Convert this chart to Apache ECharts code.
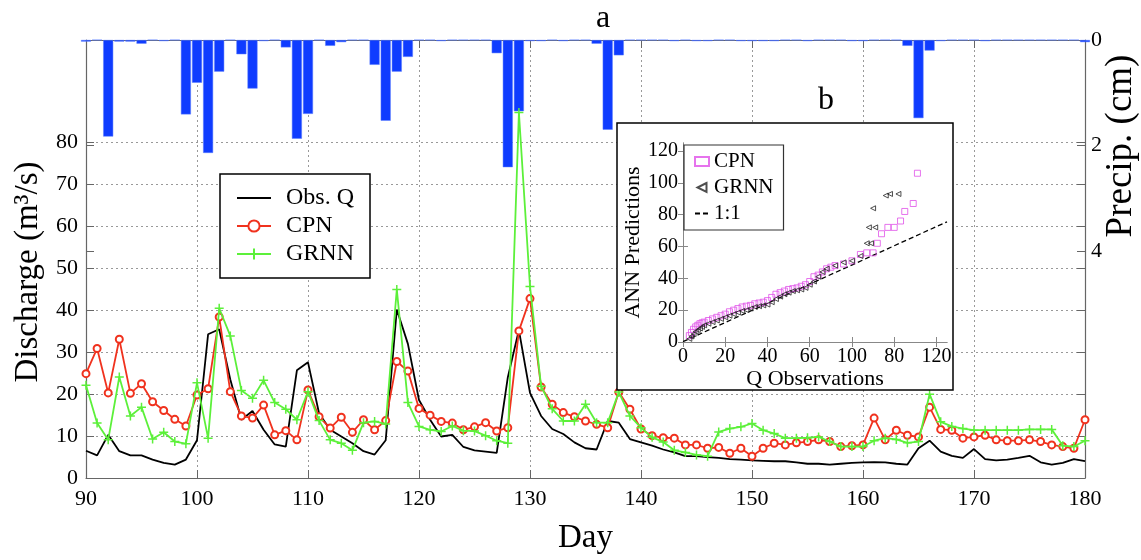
<!DOCTYPE html>
<html><head><meta charset="utf-8">
<script src="https://cdn.jsdelivr.net/npm/echarts@6/dist/echarts.min.js"></script>
<style>html,body{margin:0;padding:0;background:#fff}#c{width:1141px;height:560px}</style>
</head><body><div id="c"></div>
<script>
// ---- data ----
var firstDay = 90, lastDay = 180;
var obsQ = [6.5,5.4,10.3,6.4,5.4,5.4,4.4,3.6,3.2,4.4,
  9.0,34.3,35.5,23.5,13.9,16,11.5,8,7.5,25.7,
  27.6,15.4,11.5,9.9,8.3,6.4,5.6,9.0,40.2,32,
  18.6,13.9,9.9,10.3,7.4,6.6,6.3,6.0,24,35.3,
  20.3,14.8,11.7,10.5,8.5,7.1,6.8,13.6,13.2,9.3,
  8.5,7.7,6.8,6.1,5.2,5.2,5.0,4.8,4.5,4.4,
  4.2,4.1,4.0,4.0,3.75,3.4,3.4,3.2,3.4,3.6,
  3.75,3.8,3.75,3.4,3.2,7.1,8.9,6.3,5.3,4.8,
  6.9,4.5,4.2,4.4,4.8,5.3,3.75,3.2,3.6,4.5,4.0];
var cpn = [24.9,30.9,20.3,33.1,20.2,22.5,18.2,16.1,14,12.4,
  19.8,21.3,38.4,20.6,14.8,14.3,17.4,10.3,11.3,9.1,
  21,14.6,11.9,14.5,10.9,13.9,11.5,13.7,27.8,25.5,
  16.6,15,13.5,13.1,11.5,12.2,13.2,11.2,12,35.1,
  42.8,21.7,17.6,15.6,14.6,13.6,12.8,12,20.5,16.4,
  11.7,10.1,9.6,9.5,7.9,7.9,7.1,7.3,5.9,7.1,
  5.2,7.1,8.3,7.9,8.4,8.7,9.1,8.7,7.5,7.7,
  7.9,14.3,9.1,11.4,10.2,9.8,16.9,11.6,11.4,9.5,
  9.8,10.2,9.1,8.9,8.9,9.1,8.7,7.9,7.5,7.1,13.9];
var grnn = [22.1,13.1,9.1,24.1,14.8,16.9,9.3,10.9,8.7,8.2,
  22.7,9.5,40.5,33.9,20.9,19,23.3,18,16.4,13.9,
  20.6,13.7,9.1,8.3,6.6,13.2,13.5,12.9,45,18,
  12.3,11.5,11.1,12.4,11.3,11.2,10.1,8.9,8.3,87.2,
  45.7,21.9,16.5,13.6,13.6,17.6,13.2,13.2,20.5,14.8,
  12,9.7,8.6,6.6,6.1,5.5,5.2,11,11.8,12.2,
  13,11.4,10.6,9.5,9.5,9.6,9.8,8.7,7.5,7.5,
  7.5,8.9,9.5,9.2,8.4,8.7,20,13.4,12.3,11.8,
  11.4,11.4,11.4,11.4,11.4,11.6,11.6,11.6,7.7,7.5,8.9];
// precipitation (cm), day 90..180
var precip = [0.03,0,1.83,0.03,0.03,0.07,0,0.02,0,1.41,
  0.81,2.14,0.60,0,0.27,0.92,0.02,0,0.14,1.87,
  1.40,0,0.11,0.04,0,0,0.47,1.53,0.60,0.32,
  0,0,0.02,0,0,0,0,0.25,2.41,1.35,
  0.02,0.02,0,0.02,0,0,0.07,1.70,0.29,0,
  0,0,0,0.02,0,0.02,0.02,0,0,0.02,
  0.02,0.02,0.02,0,0,0.02,0,0,0,0.02,
  0.02,0,0,0,0.11,1.48,0.20,0.02,0,0,
  0,0.02,0,0,0,0,0,0,0,0,0.04];
var mainXTicks = [90,100,110,120,130,140,150,160,170,180];
var dischargeTicks = [0,10,20,30,40,50,60,70,80];
var precipTicks = [0,2,4];
// inset scatter (b)
var insetCPN = [[3,4],[4,6],[5,8],[6,9.5],[7,10.5],[8,11.5],[9,12],[10,12.5],[12,13.5],[14,14.5],[16,15.5],[18,16.5],[20,17.5],[22,19],[24,20],[26,21],[28,22],[30,22.5],[32,23],[34,24],[36,24.5],[38,25],[40,26],[42,28],[44,30],[46,31],[48,32],[50,33],[52,33.5],[54,34],[56,35],[58,36],[60,38],[62,41],[64,42],[66,44],[68,46],[70,47],[72,48],[76,49],[80,51],[84,55],[87,56],[90,56],[92,62],[94,68],[97,72],[100,72],[103,76],[105,82],[109,87],[111,106]];
var insetGRNN = [[3,2],[4,3.5],[5,5],[6,6.5],[7,7.5],[8,8.5],[9,9.5],[10,10.5],[12,11.5],[14,12.5],[16,13.5],[18,14.5],[20,15.5],[22,16.5],[24,17.5],[26,18.5],[28,19.5],[30,20],[32,21],[34,22],[36,22.5],[38,23],[40,23.5],[42,25],[44,27],[46,28.5],[48,30],[50,31],[52,32],[54,32.5],[56,33],[58,34],[60,36],[62,38],[64,41],[66,44],[68,46],[72,48],[76,50],[80,51],[84,54],[87,62],[89,62],[88,72],[91,72],[90,84],[96,92],[98,93],[102,93]];
var insetLine = [[0,0.2],[125,75.5]];
var insetTickValues = [0,20,40,60,80,100,120];
var insetXTickLabels = ["0","20","40","60","100","80","120"];
var insetYTickLabels = ["0","20","40","60","80","100","120"];

// ---- build ----
function pairs(vals){ var o=[]; for(var i=0;i<vals.length;i++){ o.push([firstDay+i, vals[i]]); } return o; }
var FF = 'Liberation Serif';
var AX = '#666';
var PMAX = 8.3;
var dotted = {show:true, lineStyle:{color:'#999', type:[2,3], width:1}};
var chart = echarts.init(document.getElementById('c'), null, {renderer:'canvas'});
var plusPath = 'path://M0,5L10,5M5,0L5,10';
var option = {
  animation:false,
  backgroundColor:'#fff',
  textStyle:{fontFamily:FF},
  title:[
    {text:'a', left:591, top:-2, textStyle:{fontFamily:FF, fontSize:32, fontWeight:'normal', color:'#000'}},
    {text:'b', left:813, top:80, textStyle:{fontFamily:FF, fontSize:32, fontWeight:'normal', color:'#000'}}
  ],
  graphic:[
    {type:'rect', z:5, shape:{x:617, y:123, width:336, height:267}, style:{fill:'#fff', stroke:'#000', lineWidth:1.5}},
    {type:'text', z:6, x:1121, y:146, rotation:Math.PI/2, style:{text:'Precip. (cm)', font:'37px "Liberation Serif"', fill:'#000', align:'center', verticalAlign:'middle'}}
  ],
  legend:[
    {z:20, orient:'vertical', left:220, top:174, padding:[12,16,12,16], itemWidth:34, itemHeight:14, itemGap:4,
     borderColor:'#000', borderWidth:1.5, backgroundColor:'#fff',
     textStyle:{fontFamily:FF, fontSize:24, color:'#000', padding:[0,0,0,10]},
     data:[{name:'Obs. Q', itemStyle:{opacity:0}},'CPN','GRNN']},
    {z:20, orient:'vertical', left:684, top:145, padding:[6,10,6,10], itemWidth:14, itemHeight:9, itemGap:5,
     borderColor:'#333', borderWidth:1.2, backgroundColor:'#fff',
     textStyle:{fontFamily:FF, fontSize:21, color:'#000'},
     formatter:function(n){return n.trim();},
     data:['CPN ',{name:'GRNN ', icon:'path://M10,0L0,5L10,10Z'},{name:'1:1', itemStyle:{opacity:0}}]}
  ],
  grid:[
    {left:86, right:56, top:40, bottom:76},
    {left:683, top:143, width:264, height:199, z:10}
  ],
  xAxis:[
    {gridIndex:0, type:'value', min:90, max:180, interval:10, position:'bottom',
     axisLine:{lineStyle:{color:AX, width:1.2}}, axisTick:{inside:true, length:8, lineStyle:{color:AX}},
     axisLabel:{fontFamily:FF, fontSize:22, color:'#000', margin:10},
     splitLine:dotted,
     name:'Day', nameLocation:'middle', nameGap:44, nameTextStyle:{fontFamily:FF, fontSize:33, color:'#000'}},
    {gridIndex:0, type:'value', min:90, max:180, interval:10, position:'top',
     axisLine:{lineStyle:{color:AX, width:1.2}}, axisTick:{inside:true, length:8, lineStyle:{color:AX}},
     axisLabel:{show:false}, splitLine:{show:false}},
    {gridIndex:1, type:'value', min:0, max:125, position:'bottom', z:10,
     axisLine:{lineStyle:{color:'#888'}}, axisTick:{inside:true, length:5, customValues:insetTickValues, lineStyle:{color:'#888'}},
     axisLabel:{customValues:insetTickValues, fontFamily:FF, fontSize:20, color:'#000', margin:5,
       formatter:function(v){ return insetXTickLabels[insetTickValues.indexOf(v)]; }},
     splitLine:{show:false},
     name:'Q Observations', nameLocation:'middle', nameGap:24, nameTextStyle:{fontFamily:FF, fontSize:22, color:'#000'}},
    {gridIndex:1, type:'value', min:0, max:125, position:'top', z:10,
     axisLine:{lineStyle:{color:'#888'}}, axisTick:{inside:true, length:5, customValues:insetTickValues, lineStyle:{color:'#888'}},
     axisLabel:{show:false}, splitLine:{show:false}}
  ],
  yAxis:[
    {gridIndex:0, type:'value', min:0, max:104.5, position:'left',
     axisLine:{show:true, lineStyle:{color:AX, width:1.2}},
     axisTick:{show:true, inside:true, length:8, customValues:dischargeTicks, lineStyle:{color:AX}},
     axisLabel:{customValues:dischargeTicks, fontFamily:FF, fontSize:22, color:'#000', margin:8},
     splitLine:dotted,
     name:'Discharge (m³/s)', nameLocation:'middle', nameGap:39, nameTextStyle:{fontFamily:FF, fontSize:33, color:'#000', padding:[0,26,0,0]}},
    {gridIndex:0, type:'value', min:0, max:PMAX, inverse:true, position:'right',
     axisLine:{show:true, lineStyle:{color:AX, width:1.2}},
     axisTick:{show:true, inside:true, length:8, customValues:precipTicks, lineStyle:{color:AX}},
     axisLabel:{customValues:precipTicks, fontFamily:FF, fontSize:22, color:'#000', margin:6},
     splitLine:{show:false}},
    {gridIndex:0, type:'value', min:0, max:104.5, position:'right',
     axisLine:{show:false}, axisTick:{show:true, inside:true, length:8, customValues:dischargeTicks, lineStyle:{color:AX}},
     axisLabel:{show:false}, splitLine:{show:false}},
    {gridIndex:0, type:'value', min:0, max:PMAX, inverse:true, position:'left',
     axisLine:{show:false}, axisTick:{show:true, inside:true, length:8, customValues:precipTicks, lineStyle:{color:AX}},
     axisLabel:{show:false}, splitLine:{show:false}},
    {gridIndex:1, type:'value', min:0, max:125, position:'left', z:10,
     axisLine:{show:true, lineStyle:{color:'#888'}}, axisTick:{show:true, inside:true, length:5, customValues:insetTickValues, lineStyle:{color:'#888'}},
     axisLabel:{customValues:insetTickValues, fontFamily:FF, fontSize:20, color:'#000', margin:5,
       formatter:function(v){ return insetYTickLabels[insetTickValues.indexOf(v)]; }},
     splitLine:{show:false},
     name:'ANN Predictions', nameLocation:'middle', nameGap:34, nameTextStyle:{fontFamily:FF, fontSize:22, color:'#000'}},
    {gridIndex:1, type:'value', min:0, max:125, position:'right', z:10,
     axisLine:{show:true, lineStyle:{color:'#888'}}, axisTick:{show:true, inside:true, length:5, customValues:insetTickValues, lineStyle:{color:'#888'}},
     axisLabel:{show:false}, splitLine:{show:false}}
  ],
  series:[
    {name:'Precip', type:'bar', xAxisIndex:0, yAxisIndex:1, barWidth:10, z:1,
     itemStyle:{color:'#0f3cff', borderColor:'#5a7cff', borderWidth:0.5}, data:pairs(precip)},
    {name:'Obs. Q', type:'line', xAxisIndex:0, yAxisIndex:0, symbol:'none', z:3,
     lineStyle:{color:'#000', width:1.8}, itemStyle:{color:'#000'}, data:pairs(obsQ)},
    {name:'CPN', type:'line', xAxisIndex:0, yAxisIndex:0, symbol:'emptyCircle', symbolSize:7, z:3,
     lineStyle:{color:'#f0321e', width:1.8}, itemStyle:{color:'#f0321e', borderColor:'#f0321e', borderWidth:1.2}, data:pairs(cpn)},
    {name:'GRNN', type:'line', xAxisIndex:0, yAxisIndex:0, symbol:plusPath, symbolSize:9, z:4,
     lineStyle:{color:'#5cf03a', width:1.8}, itemStyle:{color:'#5cf03a', borderColor:'#5cf03a', borderWidth:1.5}, data:pairs(grnn)},
    {name:'CPN ', type:'scatter', xAxisIndex:2, yAxisIndex:4, symbol:'rect', symbolSize:6, z:12,
     itemStyle:{color:'rgba(255,255,255,0)', borderColor:'#e050e8', borderWidth:1}, data:insetCPN},
    {name:'GRNN ', type:'scatter', xAxisIndex:2, yAxisIndex:4, symbol:'triangle', symbolRotate:90, symbolSize:5, z:12,
     itemStyle:{color:'rgba(255,255,255,0)', borderColor:'#222', borderWidth:1}, data:insetGRNN},
    {name:'1:1', type:'line', xAxisIndex:2, yAxisIndex:4, symbol:'none', z:12,
     lineStyle:{color:'#000', width:1.3, type:[5,3]}, itemStyle:{color:'#000'}, data:insetLine}
  ]
};
chart.setOption(option);
</script></body></html>
